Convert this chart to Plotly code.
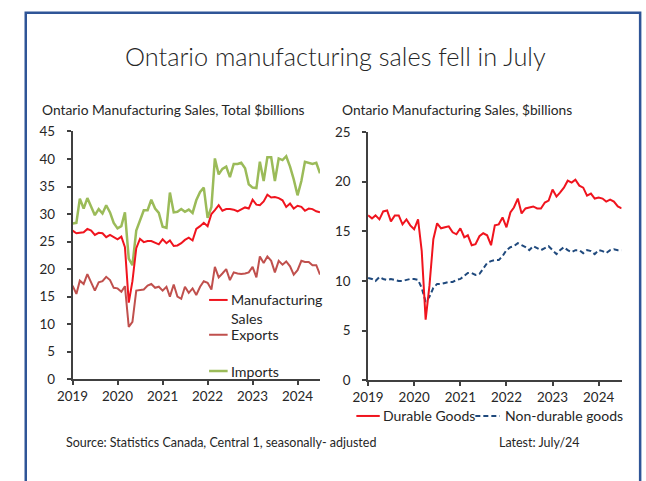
import plotly.graph_objects as go
import pandas as pd

W, H = 646, 481

# ---------------- data (monthly, Jan 2019 - Jul 2024) ----------------
months = pd.date_range("2019-01-01", periods=67, freq="MS")

manufacturing = [27.0, 26.5, 26.6, 26.7, 27.3, 27.0, 26.2, 26.6, 26.5, 25.8, 26.2, 25.8,
                 25.4, 25.9, 24.0, 13.9, 17.8, 23.8, 25.5, 24.9, 25.1, 25.1, 24.8, 24.5,
                 25.4, 24.7, 25.2, 24.2, 24.3, 24.7, 25.3, 25.7, 25.2, 27.3, 27.8, 28.4,
                 27.8, 30.0, 30.7, 31.6, 30.6, 30.9, 30.9, 30.8, 30.5, 30.8, 31.2, 31.0,
                 32.6, 31.7, 31.6, 32.3, 33.5, 33.0, 33.1, 32.9, 32.5, 31.3, 31.9, 31.0,
                 31.5, 31.3, 30.6, 31.0, 30.9, 30.5, 30.3]

exports = [17.0, 15.5, 17.9, 17.3, 19.1, 17.6, 16.1, 17.6, 17.8, 18.6, 18.0, 16.6,
           16.5, 15.9, 16.9, 9.5, 10.4, 16.1, 16.2, 16.3, 17.0, 17.3, 16.6, 16.8,
           16.1, 16.8, 15.0, 17.2, 15.0, 14.6, 16.8, 15.7, 16.5, 15.3, 16.8, 17.8,
           17.5, 16.3, 20.4, 18.5, 19.2, 20.0, 18.0, 19.4, 19.2, 19.1, 19.2, 19.4,
           20.4, 18.5, 22.3, 21.1, 22.3, 21.5, 19.4, 21.5, 20.8, 21.4, 20.5, 19.0,
           19.8, 21.5, 21.3, 21.3, 20.7, 20.7, 19.0]

imports = [28.3, 28.4, 32.8, 31.0, 32.9, 31.3, 29.8, 30.9, 30.1, 31.6, 30.3, 28.4,
           27.4, 27.8, 30.3, 21.9, 20.7, 27.0, 28.7, 30.7, 30.7, 32.6, 31.0, 30.2,
           27.7, 27.5, 33.9, 30.3, 30.4, 30.9, 30.4, 30.8, 30.2, 32.5, 34.0, 34.8,
           29.3, 31.3, 40.1, 37.2, 38.2, 38.6, 36.7, 39.1, 39.1, 39.3, 38.3, 35.4,
           34.8, 34.7, 39.5, 36.0, 40.3, 40.3, 36.0, 40.1, 39.8, 40.5, 38.6, 36.3,
           33.4, 36.0, 39.5, 39.3, 39.1, 39.3, 37.4]

durable = [16.6, 16.3, 16.6, 16.2, 17.0, 17.1, 16.0, 16.6, 16.6, 15.7, 16.2, 15.6,
           15.2, 16.2, 13.0, 6.1, 9.5, 14.2, 15.8, 15.3, 15.4, 15.5, 14.9, 14.7,
           15.3, 14.4, 14.6, 13.6, 13.7, 14.5, 14.8, 14.6, 13.6, 15.6, 15.7, 16.4,
           15.4, 16.9, 17.4, 18.3, 16.8, 17.3, 17.4, 17.5, 17.3, 17.3, 17.9, 18.1,
           19.2, 18.5, 18.9, 19.4, 20.1, 19.9, 20.2, 19.6, 19.4, 18.6, 18.8, 18.3,
           18.4, 18.3, 18.0, 18.2, 18.0, 17.5, 17.3]

nondurable = [10.3, 10.2, 10.0, 10.4, 10.2, 10.1, 10.2, 10.1, 10.0, 10.0, 10.1, 10.2,
              10.2, 10.1, 9.3, 7.9, 8.4, 9.3, 9.7, 9.7, 9.8, 9.9, 9.9, 10.1,
              10.2, 10.5, 10.8, 10.8, 10.6, 10.7, 11.2, 11.8, 12.0, 12.1, 12.1, 12.5,
              13.1, 13.4, 13.5, 13.8, 13.6, 13.4, 13.1, 13.5, 13.3, 13.1, 13.3, 13.5,
              13.1, 12.7, 13.1, 13.4, 13.1, 12.9, 13.1, 13.1, 12.8, 13.1, 13.0, 12.7,
              13.1, 13.0, 12.8, 13.1, 13.2, 13.1, 13.1]

year_ticks = ["2019-01-01", "2020-01-01", "2021-01-01", "2022-01-01", "2023-01-01", "2024-01-01"]
year_labels = ["2019", "2020", "2021", "2022", "2023", "2024"]

# ---------------- styling ----------------
FONT = "Lato"
RED = "#F0141E"
EXPRED = "#C0504D"
GREEN = "#9BBB59"
NAVY = "#1F497D"
AXIS = "#404040"
TXT = "#262626"
DASH = "5px,3px"


def px(x):
    return x / W


def py(y):
    return 1 - y / H


fig = go.Figure()
fig.add_trace(go.Scatter(x=months, y=imports, mode="lines", name="Imports",
                         line=dict(color=GREEN, width=2.5), xaxis="x", yaxis="y"))
fig.add_trace(go.Scatter(x=months, y=exports, mode="lines", name="Exports",
                         line=dict(color=EXPRED, width=2), xaxis="x", yaxis="y"))
fig.add_trace(go.Scatter(x=months, y=manufacturing, mode="lines", name="Manufacturing Sales",
                         line=dict(color=RED, width=2), xaxis="x", yaxis="y"))
fig.add_trace(go.Scatter(x=months, y=nondurable, mode="lines", name="Non-durable goods",
                         line=dict(color=NAVY, width=2, dash=DASH), xaxis="x2", yaxis="y2"))
fig.add_trace(go.Scatter(x=months, y=durable, mode="lines", name="Durable Goods",
                         line=dict(color=RED, width=2), xaxis="x2", yaxis="y2"))

common_x = dict(range=[months[0], months[-1]], tickvals=year_ticks, ticktext=year_labels,
                showgrid=False, zeroline=False, showline=True, linecolor=AXIS, linewidth=1.5,
                ticks="outside", ticklen=4, tickcolor=AXIS, tickwidth=1.5,
                tickfont=dict(family=FONT, size=13.4, color=TXT))
common_y = dict(dtick=5, showgrid=False, zeroline=False, showline=True, linecolor=AXIS,
                linewidth=1.5, ticks="outside", ticklen=4, tickcolor=AXIS, tickwidth=1.5,
                ticklabelstandoff=9,
                tickfont=dict(family=FONT, size=13.4, color=TXT))

fig.update_layout(
    width=W, height=H, margin=dict(l=0, r=0, t=0, b=0, pad=0),
    paper_bgcolor="white", plot_bgcolor="white", showlegend=False,
    xaxis=dict(domain=[px(58), px(311.7)], anchor="y", **common_x),
    yaxis=dict(domain=[py(384), py(127.7)], range=[0, 45], anchor="x", **common_y),
    xaxis2=dict(domain=[px(361), px(621)], anchor="y2", **common_x),
    yaxis2=dict(domain=[py(385), py(128.3)], range=[0, 25], anchor="x2", **common_y),
)

shapes = []
annotations = []

# frame
shapes.append(dict(type="rect", xref="paper", yref="paper", x0=px(10), x1=px(640),
                   y0=-0.1, y1=py(5), line=dict(color="#2F5597", width=2.5)))


def text(x, y, s, size, anchor="left", color=TXT, weight=None):
    f = dict(family=FONT, size=size, color=color)
    if weight:
        f["weight"] = weight
    annotations.append(dict(x=px(x), y=py(y), xref="paper", yref="paper", text=s,
                            showarrow=False, xanchor=anchor, yanchor="middle", font=f))


text(328, 50, "Ontario manufacturing sales fell in July", 25.3, anchor="center", weight=300)
text(25, 104.5, "Ontario Manufacturing Sales, Total $billions", 13.8)
text(332, 104.5, "Ontario Manufacturing Sales, $billions", 13.8)
text(49, 449, "Source: Statistics Canada, Central 1, seasonally- adjusted", 12.5)
text(493, 449, "Latest: July/24", 12.5)


def sample(x0, x1, y, color, dash="solid"):
    shapes.append(dict(type="line", xref="paper", yref="paper", x0=px(x0), x1=px(x1),
                       y0=py(y), y1=py(y),
                       line=dict(color=color, width=2.5 if color == GREEN else 2, dash=dash)))


# left legend
sample(198, 217, 302, RED)
text(218, 302, "Manufacturing", 14.2)
text(218, 321.5, "Sales", 14.2)
sample(198, 217, 338, EXPRED)
text(218, 338, "Exports", 14.2)
sample(198, 217, 375.5, GREEN)
text(218, 375.5, "Imports", 14.2)

# right legend
sample(349, 373, 422, RED)
text(374, 422, "Durable Goods", 14)
sample(471, 496, 422, NAVY, DASH)
text(499, 422, "Non-durable goods", 14)

fig.update_layout(shapes=shapes, annotations=annotations)
fig.write_html("out.html")
